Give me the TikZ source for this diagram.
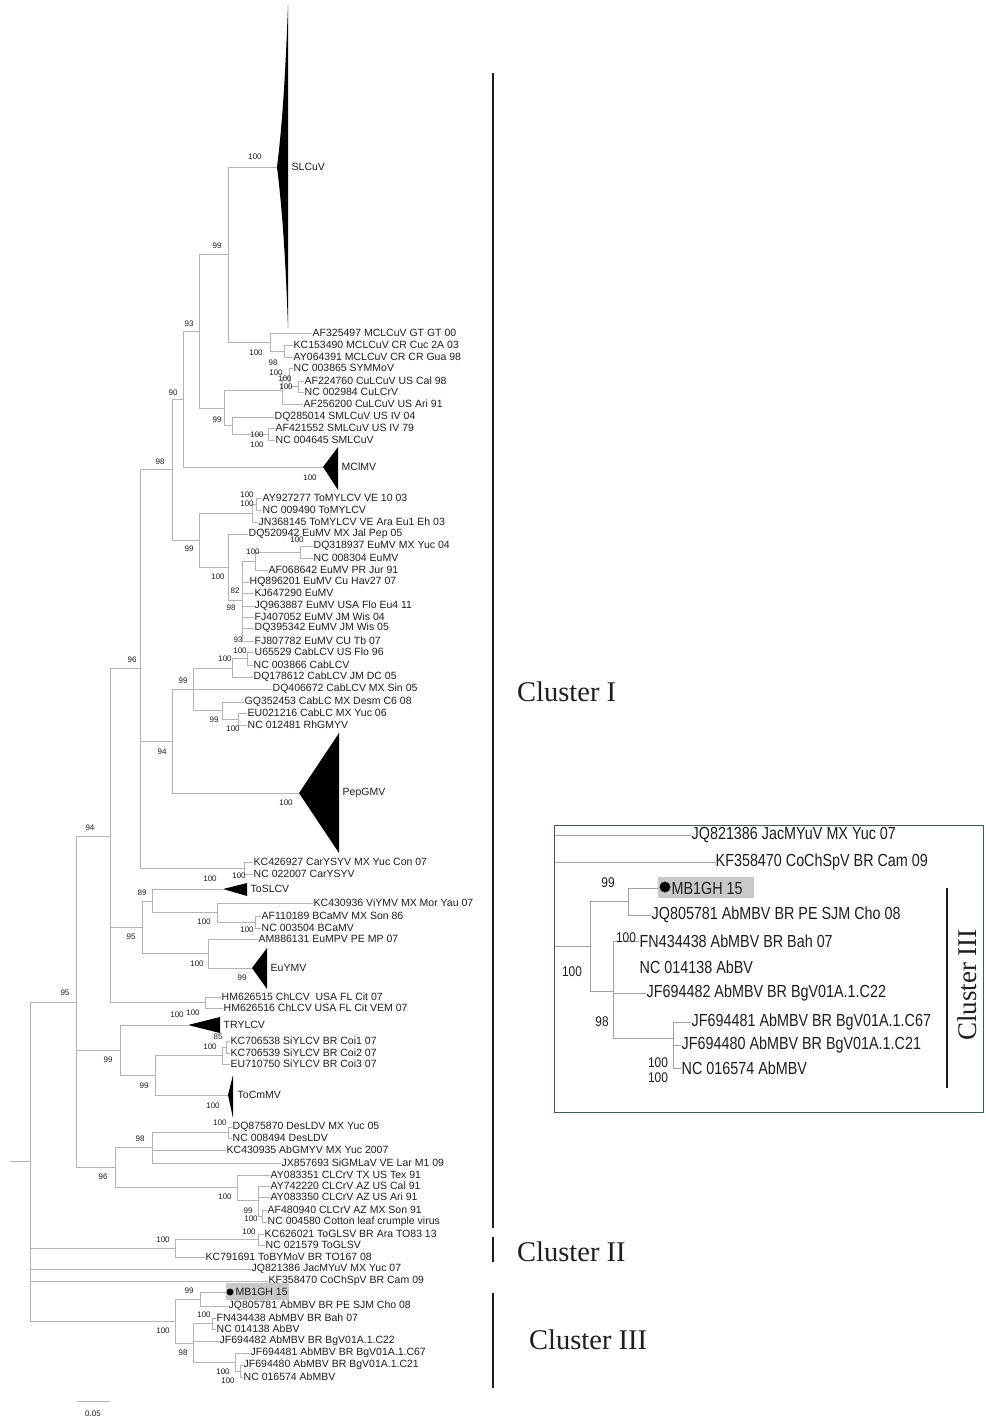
\documentclass[tikz,border=0pt]{standalone}
\usepackage{graphicx}
\usepackage{fontspec}
\setmainfont{Liberation Sans}
\newfontfamily\clfont{Liberation Serif}
\definecolor{brc}{HTML}{B4B4B4}
\definecolor{ibrc}{HTML}{A0A0A0}
\definecolor{txt}{HTML}{1E1E1E}
\definecolor{boxc}{HTML}{3E5C5C}
\definecolor{hil}{HTML}{C8C8C8}
\newcommand{\nar}[1]{\scalebox{0.82}[1]{#1}}
\newcommand{\narb}[1]{\scalebox{0.85}[1]{#1}}
\tikzset{
  br/.style={draw=brc, line width=0.9pt},
  ibr/.style={draw=ibrc, line width=1pt},
  leaf/.style={anchor=west, inner sep=0.5pt, font=\fontsize{10.5}{12}\selectfont, text=txt},
  ileaf/.style={anchor=west, inner sep=0.5pt, font=\fontsize{17.5}{19}\selectfont, text=txt},
  bs/.style={inner sep=0pt, font=\fontsize{8}{9}\selectfont, text=txt},
  ibs/.style={inner sep=0pt, font=\fontsize{14}{15}\selectfont, text=txt},
  cl/.style={inner sep=0pt, font=\clfont\fontsize{28.5}{30}\selectfont, text=txt},
  clbar/.style={draw=txt, line width=1.3pt},
  clade/.style={fill=black},
}
\begin{document}
\begin{tikzpicture}[x=1pt,y=-1pt]
\useasboundingbox (0,0) rectangle (985,1420);
\fill[white] (0,0) rectangle (985,1420);

% ---------- SLCuV / MCLCuV / CuLCuV / SMLCuV ----------
\coordinate (tSL) at (277,167);
\fill[clade] (tSL) .. controls (283,120) and (286,60) .. (288,5) -- (288,328) .. controls (286,270) and (283,215) .. (tSL) -- cycle;
\node[leaf] (lSL) at (291,167) {SLCuV};
\node[leaf] (l1) at (312,333) {AF325497 MCLCuV GT GT 00};
\node[leaf] (l2) at (293,345) {KC153490 MCLCuV CR Cuc 2A 03};
\node[leaf] (l3) at (293,357) {AY064391 MCLCuV CR CR Gua 98};
\coordinate (nMC1) at (284,351);
\coordinate (nMC) at (270,342);
\coordinate (n99t) at (228,254.5);
\draw[br] (nMC1) |- (l2.west); \draw[br] (nMC1) |- (l3.west);
\draw[br] (nMC) |- (l1.west); \draw[br] (nMC) |- (nMC1);
\draw[br] (n99t) |- (tSL); \draw[br] (n99t) |- (nMC);

\node[leaf] (l4) at (293,368) {NC 003865 SYMMoV};
\node[leaf] (l5) at (304,381) {AF224760 CuLCuV US Cal 98};
\node[leaf] (l6) at (304,392) {NC 002984 CuLCrV};
\node[leaf] (l7) at (303,404) {AF256200 CuLCuV US Ari 91};
\coordinate (nCu3) at (298,386.5);
\coordinate (nCu2) at (289,377);
\coordinate (nCu1) at (282,390.5);
\draw[br] (nCu3) |- (l5.west); \draw[br] (nCu3) |- (l6.west);
\draw[br] (nCu2) |- (l4.west); \draw[br] (nCu2) |- (nCu3);
\draw[br] (nCu1) |- (nCu2); \draw[br] (nCu1) |- (l7.west);

\node[leaf] (l8) at (274,417) {DQ285014 SMLCuV US IV 04};
\node[leaf] (l9) at (275,428) {AF421552 SMLCuV US IV 79};
\node[leaf] (l10) at (275,440) {NC 004645 SMLCuV};
\coordinate (nSM2) at (268,434);
\coordinate (nSM) at (232,425.5);
\draw[br] (nSM2) |- (l9.west); \draw[br] (nSM2) |- (l10.west);
\draw[br] (nSM) |- (l8.west); \draw[br] (nSM) |- (nSM2);
\coordinate (n99d) at (224,408);
\draw[br] (n99d) |- (nCu1); \draw[br] (n99d) |- (nSM);
\coordinate (n93) at (199,331);
\draw[br] (n93) |- (n99t); \draw[br] (n93) |- (n99d);

\coordinate (tMC) at (323,467);
\fill[clade] (tMC) -- (338,447) -- (338,490) -- cycle;
\node[leaf] (lMC) at (341,467) {MClMV};
\coordinate (n90) at (183,399);
\draw[br] (n90) |- (n93); \draw[br] (n90) |- (tMC);

% ---------- ToMYLCV / EuMV ----------
\node[leaf] (l11) at (262,498) {AY927277 ToMYLCV VE 10 03};
\node[leaf] (l12) at (262,510) {NC 009490 ToMYLCV};
\node[leaf] (l13) at (258,522) {JN368145 ToMYLCV VE Ara Eu1 Eh 03};
\coordinate (nTo2) at (256,504);
\coordinate (nTo) at (252,513);
\draw[br] (nTo2) |- (l11.west); \draw[br] (nTo2) |- (l12.west);
\draw[br] (nTo) |- (nTo2); \draw[br] (nTo) |- (l13.west);

\node[leaf] (l14) at (248,534) {DQ520942 EuMV MX Jal Pep 05};
\node[leaf] (l15) at (313,546) {DQ318937 EuMV MX Yuc 04};
\node[leaf] (l16) at (313,558) {NC 008304 EuMV};
\node[leaf] (l17) at (268,570) {AF068642 EuMV PR Jur 91};
\node[leaf] (l18) at (249,582) {HQ896201 EuMV Cu Hav27 07};
\node[leaf] (l19) at (254,593) {KJ647290 EuMV};
\node[leaf] (l20) at (254,606) {JQ963887 EuMV USA Flo Eu4 11};
\node[leaf] (l21) at (254,617) {FJ407052 EuMV JM Wis 04};
\node[leaf] (l22) at (254,628) {DQ395342 EuMV JM Wis 05};
\node[leaf] (l23) at (254,641) {FJ807782 EuMV CU Tb 07};
\coordinate (nEu4) at (300,552);
\coordinate (nEu3) at (255,561);
\coordinate (nEuB) at (242,600);
\coordinate (nEuA) at (228,567);
\draw[br] (nEu4) |- (l15.west); \draw[br] (nEu4) |- (l16.west);
\draw[br] (nEu3) |- (nEu4); \draw[br] (nEu3) |- (l17.west);
\draw[br] (nEuB) |- (nEu3);
\foreach \l in {l18,l19,l20,l21,l22,l23} \draw[br] (nEuB) |- (\l.west);
\draw[br] (nEuA) |- (l14.west); \draw[br] (nEuA) |- (nEuB);
\coordinate (n99a) at (199,540);
\draw[br] (n99a) |- (nTo); \draw[br] (n99a) |- (nEuA);
\coordinate (n98) at (172,469.5);
\draw[br] (n98) |- (n90); \draw[br] (n98) |- (n99a);

% ---------- CabLCV ----------
\node[leaf] (l24) at (254,652) {U65529 CabLCV US Flo 96};
\node[leaf] (l25) at (253,665) {NC 003866 CabLCV};
\node[leaf] (l26) at (253,677) {DQ178612 CabLCV JM DC 05};
\node[leaf] (l27) at (272,689) {DQ406672 CabLCV MX Sin 05};
\node[leaf] (l28) at (244,702) {GQ352453 CabLC MX Desm C6 08};
\node[leaf] (l29) at (247,713) {EU021216 CabLC MX Yuc 06};
\node[leaf] (l30) at (247,725) {NC 012481 RhGMYV};
\coordinate (nCa3) at (247,658.5);
\coordinate (nCa2) at (232,668);
\coordinate (nCa5) at (238,719);
\coordinate (nCa4) at (222,710.5);
\coordinate (n99b) at (193,689);
\draw[br] (nCa3) |- (l24.west); \draw[br] (nCa3) |- (l25.west);
\draw[br] (nCa2) |- (nCa3); \draw[br] (nCa2) |- (l26.west);
\draw[br] (nCa5) |- (l29.west); \draw[br] (nCa5) |- (l30.west);
\draw[br] (nCa4) |- (l28.west); \draw[br] (nCa4) |- (nCa5);
\draw[br] (n99b) |- (nCa2); \draw[br] (n99b) |- (l27.west); \draw[br] (n99b) |- (nCa4);

\coordinate (tPep) at (299,793);
\fill[clade] (tPep) -- (339,733) -- (339,853) -- cycle;
\node[leaf] (lPep) at (342,793) {PepGMV};
\coordinate (n94b) at (172,741);
\draw[br] (n94b) |- (n99b); \draw[br] (n94b) |- (tPep);

\node[leaf] (l31) at (253,862) {KC426927 CarYSYV MX Yuc Con 07};
\node[leaf] (l32) at (253,874) {NC 022007 CarYSYV};
\coordinate (nCar) at (244,868);
\draw[br] (nCar) |- (l31.west); \draw[br] (nCar) |- (l32.west);
\coordinate (n96) at (140,668);
\draw[br] (n96) |- (n98); \draw[br] (n96) |- (n94b); \draw[br] (n96) |- (nCar);

% ---------- ToSLCV / BCaMV / EuYMV / ChLCV ----------
\coordinate (tTS) at (223,889);
\fill[clade] (tTS) -- (247,883) -- (247,896) -- cycle;
\node[leaf] (lTS) at (250,889) {ToSLCV};
\node[leaf] (l33) at (313,903) {KC430936 ViYMV MX Mor Yau 07};
\node[leaf] (l34) at (261,916) {AF110189 BCaMV MX Son 86};
\node[leaf] (l35) at (261,928) {NC 003504 BCaMV};
\coordinate (nBC2) at (255,922);
\coordinate (nBC) at (217,912.5);
\coordinate (n89) at (152,901);
\draw[br] (nBC2) |- (l34.west); \draw[br] (nBC2) |- (l35.west);
\draw[br] (nBC) |- (l33.west); \draw[br] (nBC) |- (nBC2);
\draw[br] (n89) |- (tTS); \draw[br] (n89) |- (nBC);

\node[leaf] (l36) at (258,939) {AM886131 EuMPV PE MP 07};
\coordinate (tEY) at (252,968);
\fill[clade] (tEY) -- (267,948) -- (267,989) -- cycle;
\node[leaf] (lEY) at (270,968) {EuYMV};
\coordinate (nEY) at (208,953.5);
\draw[br] (nEY) |- (l36.west); \draw[br] (nEY) |- (tEY);
\coordinate (n95b) at (142,927);
\draw[br] (n95b) |- (n89); \draw[br] (n95b) |- (nEY);

\node[leaf] (l37) at (221,997) {HM626515 ChLCV\ \ USA FL Cit 07};
\node[leaf] (l38) at (223,1008) {HM626516 ChLCV USA FL Cit VEM 07};
\coordinate (nCh) at (205,1002.5);
\draw[br] (nCh) |- (l37.west); \draw[br] (nCh) |- (l38.west);
\coordinate (n94) at (110,836);
\draw[br] (n94) |- (n96); \draw[br] (n94) |- (n95b); \draw[br] (n94) |- (nCh);

% ---------- TRYLCV / SiYLCV / ToCmMV ----------
\coordinate (tTR) at (188,1025);
\fill[clade] (tTR) -- (220,1017) -- (220,1033) -- cycle;
\node[leaf] (lTR) at (223,1025) {TRYLCV};
\node[leaf] (l39) at (230,1041) {KC706538 SiYLCV BR Coi1 07};
\node[leaf] (l40) at (230,1053) {KC706539 SiYLCV BR Coi2 07};
\node[leaf] (l41) at (230,1064) {EU710750 SiYLCV BR Coi3 07};
\coordinate (nSi2) at (226,1047);
\coordinate (nSi) at (222,1055.5);
\draw[br] (nSi2) |- (l39.west); \draw[br] (nSi2) |- (l40.west);
\draw[br] (nSi) |- (nSi2); \draw[br] (nSi) |- (l41.west);
\coordinate (tTC) at (228,1095);
\fill[clade] (tTC) -- (233,1075) -- (233,1118) -- cycle;
\node[leaf] (lTC) at (237,1095) {ToCmMV};
\coordinate (n99f) at (155,1075);
\draw[br] (n99f) |- (nSi); \draw[br] (n99f) |- (tTC);
\coordinate (n99e) at (120,1050);
\draw[br] (n99e) |- (tTR); \draw[br] (n99e) |- (n99f);

% ---------- DesLDV / CLCrV ----------
\node[leaf] (l42) at (232,1127) {DQ875870 DesLDV MX Yuc 05};
\node[leaf] (l43) at (232,1138) {NC 008494 DesLDV};
\node[leaf] (l44) at (226,1150) {KC430935 AbGMYV MX Yuc 2007};
\node[leaf] (l45) at (281,1163) {JX857693 SiGMLaV VE Lar M1 09};
\coordinate (nDe) at (228,1132.5);
\coordinate (n98c) at (152,1147);
\draw[br] (nDe) |- (l42.west); \draw[br] (nDe) |- (l43.west);
\draw[br] (n98c) |- (nDe); \draw[br] (n98c) |- (l44.west); \draw[br] (n98c) |- (l45.west);
\node[leaf] (l46) at (270,1175) {AY083351 CLCrV TX US Tex 91};
\node[leaf] (l47) at (270,1186) {AY742220 CLCrV AZ US Cal 91};
\node[leaf] (l48) at (270,1197) {AY083350 CLCrV AZ US Ari 91};
\node[leaf] (l49) at (267,1210) {AF480940 CLCrV AZ MX Son 91};
\node[leaf] (l50) at (267,1222) {NC 004580 Cotton leaf crumple virus};
\coordinate (nCL3) at (262,1216);
\coordinate (nCL2) at (258,1200);
\coordinate (nCL) at (237,1187.5);
\draw[br] (nCL3) |- (l49.west); \draw[br] (nCL3) |- (l50.west);
\draw[br] (nCL2) |- (l47.west); \draw[br] (nCL2) |- (l48.west); \draw[br] (nCL2) |- (nCL3);
\draw[br] (nCL) |- (l46.west); \draw[br] (nCL) |- (nCL2);
\coordinate (n96c) at (115,1167);
\draw[br] (n96c) |- (n98c); \draw[br] (n96c) |- (nCL);
\coordinate (n95) at (76,1002);
\draw[br] (n95) |- (n94); \draw[br] (n95) |- (n99e); \draw[br] (n95) |- (n96c);

% ---------- Cluster II ----------
\node[leaf] (l51) at (264,1234) {KC626021 ToGLSV BR Ara TO83 13};
\node[leaf] (l52) at (265,1245) {NC 021579 ToGLSV};
\node[leaf] (l53) at (205,1257) {KC791691 ToBYMoV BR TO167 08};
\coordinate (nTG) at (258,1239.5);
\coordinate (nC2) at (175,1248);
\draw[br] (nTG) |- (l51.west); \draw[br] (nTG) |- (l52.west);
\draw[br] (nC2) |- (nTG); \draw[br] (nC2) |- (l53.west);
\node[leaf] (l54) at (251,1269) {JQ821386 JacMYuV MX Yuc 07};
\node[leaf] (l55) at (268,1281) {KF358470 CoChSpV BR Cam 09};

% ---------- Cluster III ----------
\fill[hil] (226,1283) rectangle (289,1300);
\coordinate (mbend) at (226,1292);
\fill[black] (230,1292) circle (3.5);
\node[leaf] (l56) at (235,1292) {MB1GH 15};
\node[leaf] (l57) at (228,1306) {JQ805781 AbMBV BR PE SJM Cho 08};
\coordinate (n3a) at (200,1299);
\draw[br] (n3a) |- (mbend); \draw[br] (n3a) |- (l57.west);
\node[leaf] (l58) at (216,1318) {FN434438 AbMBV BR Bah 07};
\node[leaf] (l59) at (216,1329) {NC 014138 AbBV};
\node[leaf] (l60) at (219,1341) {JF694482 AbMBV BR BgV01A.1.C22};
\node[leaf] (l61) at (250,1353) {JF694481 AbMBV BR BgV01A.1.C67};
\node[leaf] (l62) at (243,1365) {JF694480 AbMBV BR BgV01A.1.C21};
\node[leaf] (l63) at (243,1377) {NC 016574 AbMBV};
\coordinate (n3c) at (212,1323.5);
\coordinate (n3e) at (240,1371);
\coordinate (n3d) at (235,1362);
\coordinate (n3b) at (193,1343);
\coordinate (nC3) at (175,1321);
\draw[br] (n3c) |- (l58.west); \draw[br] (n3c) |- (l59.west);
\draw[br] (n3e) |- (l62.west); \draw[br] (n3e) |- (l63.west);
\draw[br] (n3d) |- (l61.west); \draw[br] (n3d) |- (n3e);
\draw[br] (n3b) |- (n3c); \draw[br] (n3b) |- (l60.west); \draw[br] (n3b) |- (n3d);
\draw[br] (nC3) |- (n3a); \draw[br] (nC3) |- (n3b);

% ---------- root ----------
\coordinate (root) at (30,1161);
\coordinate (rtick) at (10,1161);
\draw[br] (rtick) -- (root);
\draw[br] (root) |- (n95); \draw[br] (root) |- (nC2);
\draw[br] (root) |- (l54.west); \draw[br] (root) |- (l55.west);
\draw[br] (root) |- (nC3);

% scale bar
\draw[br] (77,1401) -- (110,1401);
\node[bs] (scl) at (93,1414) {0.05};

% bootstrap values
\foreach [count=\i] \x/\y/\t in {255/157/100, 217/246/99, 189/324/93, 173/393/90, 160/462/98,
  256/353/100, 273/363/98, 276/373/100, 285/379/100, 286/387/100, 217/420/99, 257/435/100, 257/445/100,
  310/478/100, 247/495/100, 247/504/100, 189/549/99, 297/540/100, 253/552/100, 218/577/100,
  235/591/82, 231/608/98, 238/640/93, 240/651/100, 225/659/100, 183/681/99, 214/720/99, 233/729/100,
  132/660/96, 162/752/94, 286/803/100, 90/828/94, 210/879/100, 239/876/100, 142/893/89,
  204/922/100, 247/930/100, 131/937/95, 197/964/100, 242/978/99, 65/993/95, 177/1015/100,
  193/1013/100, 218/1037/85, 210/1047/100, 108/1060/99, 144/1086/99, 213/1106/100, 220/1123/100,
  140/1139/98, 103/1177/96, 225/1197/100, 248/1211/99, 251/1219/100, 249/1232/100, 163/1240/100,
  189/1291/99, 204/1315/100, 163/1331/100, 183/1353/98, 223/1372/100, 228/1381/100}
  \node[bs] (b\i) at (\x,\y) {\t};

% cluster bars and labels
\draw[clbar] (493,73) -- (493,1228);
\draw[clbar] (493,1237) -- (493,1262);
\draw[clbar] (493,1293) -- (493,1388);
\node[cl, anchor=west] (c1) at (517,692) {Cluster I};
\node[cl, anchor=west] (c2) at (517,1252) {Cluster II};
\node[cl, anchor=west] (c3) at (529,1340) {Cluster III};

% ---------- inset ----------
\draw[boxc, line width=1pt] (554,825) rectangle (983,1112);
\node[ileaf] (i1) at (691,835) {\nar{JQ821386 JacMYuV MX Yuc 07}};
\node[ileaf] (i2) at (715,862) {\nar{KF358470 CoChSpV BR Cam 09}};
\coordinate (iL1) at (555,835);
\coordinate (iL2) at (555,862);
\draw[ibr] (iL1) -- (i1.west);
\draw[ibr] (iL2) -- (i2.west);
\fill[hil] (658,877) rectangle (754,898);
\coordinate (imbend) at (658,888);
\fill[black] (665,887) circle (5.5);
\node[ileaf] (i3) at (671,888) {\nar{MB1GH 15}};
\node[ileaf] (i4) at (651,915) {\nar{JQ805781 AbMBV BR PE SJM Cho 08}};
\coordinate (in99) at (628,901.5);
\draw[ibr] (in99) |- (imbend); \draw[ibr] (in99) |- (i4.west);
\node[ileaf] (i5) at (639,941) {\nar{FN434438 AbMBV BR Bah 07}};
\node[ileaf] (i6) at (639,967) {\nar{NC 014138 AbBV}};
\node[ileaf] (i7) at (646,993) {\nar{JF694482 AbMBV BR BgV01A.1.C22}};
\node[ileaf] (i8) at (691,1022) {\nar{JF694481 AbMBV BR BgV01A.1.C67}};
\node[ileaf] (i9) at (681,1045) {\nar{JF694480 AbMBV BR BgV01A.1.C21}};
\node[ileaf] (i10) at (681,1068) {\nar{NC 016574 AbMBV}};
\coordinate (inJF) at (673,1038);
\draw[ibr] (inJF) |- (i8.west); \draw[ibr] (inJF) |- (i9.west); \draw[ibr] (inJF) |- (i10.west);
\coordinate (in98) at (613,991.5);
\draw[ibr] (in98) |- (i5.west); \draw[ibr] (in98) |- (i7.west); \draw[ibr] (in98) |- (inJF);
\coordinate (in100) at (590,946.5);
\coordinate (iroot) at (555,946.5);
\draw[ibr] (in100) |- (in99); \draw[ibr] (in100) |- (in98); \draw[ibr] (iroot) -- (in100);
\foreach [count=\i] \x/\y/\t in {572/972/100, 608/883/99, 626/938/100, 602/1022/98, 658/1063/100, 658/1078/100}
  \node[ibs] (ib\i) at (\x,\y) {\narb{\t}};
\draw[clbar] (947,888) -- (947,1088);
\node[cl, rotate=90, font=\clfont\fontsize{27}{29}\selectfont] (c4) at (967,985) {Cluster III};
\end{tikzpicture}
\end{document}
